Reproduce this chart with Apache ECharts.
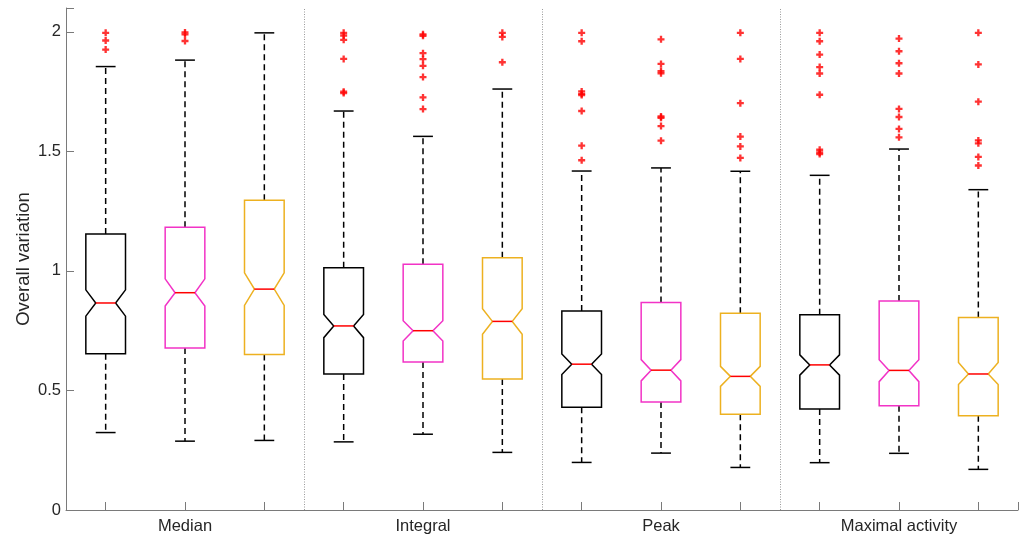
<!DOCTYPE html>
<html>
<head>
<meta charset="utf-8">
<title>Overall variation</title>
<script src="https://cdn.jsdelivr.net/npm/echarts@6/dist/echarts.min.js"></script>
<style>
  html, body { margin: 0; padding: 0; background: #ffffff; }
  #chart { width: 1026px; height: 537px; }
</style>
</head>
<body>
<div id="chart"></div>
<script>
// Measures, three conditions each (positions 1..12 on the x axis)
const groups = ['Median', 'Integral', 'Peak', 'Maximal activity'];

// Box statistics per box, left to right
const whiskerLow  = [0.324, 0.288, 0.291, 0.285, 0.317, 0.241, 0.199, 0.238, 0.178, 0.198, 0.237, 0.170];
const q1          = [0.654, 0.678, 0.650, 0.569, 0.619, 0.548, 0.430, 0.452, 0.401, 0.423, 0.436, 0.394];
const notchLow    = [0.811, 0.853, 0.856, 0.721, 0.707, 0.735, 0.567, 0.540, 0.517, 0.564, 0.537, 0.525];
const medians     = [0.866, 0.909, 0.924, 0.770, 0.750, 0.789, 0.610, 0.585, 0.559, 0.607, 0.584, 0.569];
const notchHigh   = [0.921, 0.967, 0.992, 0.818, 0.792, 0.842, 0.653, 0.629, 0.601, 0.649, 0.629, 0.617];
const q3          = [1.155, 1.183, 1.296, 1.013, 1.028, 1.055, 0.832, 0.868, 0.823, 0.817, 0.874, 0.805];
const whiskerHigh = [1.855, 1.882, 1.996, 1.669, 1.563, 1.761, 1.418, 1.431, 1.417, 1.400, 1.510, 1.340];

// Outlying observations per box
const outliers = [
  [1.996, 1.964, 1.926],
  [1.998, 1.990, 1.962],
  [],
  [1.996, 1.985, 1.967, 1.887, 1.750, 1.744],
  [1.990, 1.984, 1.911, 1.886, 1.858, 1.811, 1.726, 1.677],
  [1.996, 1.979, 1.873],
  [1.996, 1.961, 1.751, 1.741, 1.736, 1.669, 1.524, 1.463],
  [1.969, 1.866, 1.836, 1.827, 1.646, 1.641, 1.606, 1.545],
  [1.996, 1.887, 1.702, 1.562, 1.521, 1.473],
  [1.996, 1.961, 1.905, 1.853, 1.826, 1.737, 1.507, 1.496, 1.489],
  [1.972, 1.919, 1.869, 1.826, 1.678, 1.644, 1.594, 1.559],
  [1.996, 1.864, 1.708, 1.546, 1.534, 1.477, 1.441]
];

// Axis ticks
const yTicks = [0, 0.5, 1, 1.5, 2];
const yMax = 2.1;

// Colours of the three conditions within each group
const conditionColors = ['#000000', '#F233C6', '#EDB120'];

const positions = medians.map((_, i) => i + 1);
const groupCenters = groups.map((_, g) => g * 3 + 2);
const separators = groups.slice(1).map((_, g) => (g + 1) * 3 + 0.5);

const boxData = positions.map((p, i) => [
  p, whiskerLow[i], q1[i], notchLow[i], medians[i], notchHigh[i], q3[i], whiskerHigh[i]
]);

const outlierData = [];
outliers.forEach((vals, i) => vals.forEach(v => outlierData.push([positions[i], v])));

const FONT = "'Liberation Sans', Arial, Helvetica, sans-serif";
const TEXT = '#262626';
const AXIS = '#7a7a7a';

function renderBox(params, api) {
  const x = api.value(0);
  const idx = params.dataIndex;
  const color = conditionColors[idx % 3];
  const halfW = api.size([0.25, 0])[0];
  const notchW = halfW / 2;
  const capW = halfW / 2;
  const c = api.coord([x, 0])[0];
  const Y = v => api.coord([x, v])[1];
  const yWL = Y(api.value(1)), yQ1 = Y(api.value(2)), yNL = Y(api.value(3));
  const yMed = Y(api.value(4)), yNH = Y(api.value(5)), yQ3 = Y(api.value(6));
  const yWH = Y(api.value(7));
  const boxStroke = { stroke: color, lineWidth: 1.5, fill: null, lineJoin: 'miter' };
  const whiskerStroke = { stroke: '#000000', lineWidth: 1.5, lineDash: [6, 4] };
  const capStroke = { stroke: '#000000', lineWidth: 1.5 };
  return {
    type: 'group',
    children: [
      { type: 'line', shape: { x1: c, y1: yQ3, x2: c, y2: yWH }, style: whiskerStroke },
      { type: 'line', shape: { x1: c, y1: yQ1, x2: c, y2: yWL }, style: whiskerStroke },
      { type: 'line', shape: { x1: c - capW, y1: yWH, x2: c + capW, y2: yWH }, style: capStroke },
      { type: 'line', shape: { x1: c - capW, y1: yWL, x2: c + capW, y2: yWL }, style: capStroke },
      {
        type: 'polygon',
        shape: {
          points: [
            [c - halfW, yQ1], [c + halfW, yQ1], [c + halfW, yNL], [c + notchW, yMed],
            [c + halfW, yNH], [c + halfW, yQ3], [c - halfW, yQ3], [c - halfW, yNH],
            [c - notchW, yMed], [c - halfW, yNL]
          ]
        },
        style: boxStroke
      },
      { type: 'line', shape: { x1: c - notchW, y1: yMed, x2: c + notchW, y2: yMed },
        style: { stroke: '#FF0000', lineWidth: 1.5 } }
    ]
  };
}

const chart = echarts.init(document.getElementById('chart'), null, { renderer: 'canvas' });

chart.setOption({
  animation: false,
  backgroundColor: '#ffffff',
  grid: { left: 66, right: 8, top: 8, bottom: 27, containLabel: false, outerBoundsMode: 'none' },
  xAxis: {
    type: 'value',
    min: 0.5,
    max: 12.5,
    splitLine: { show: false },
    axisLine: { show: true, onZero: false, lineStyle: { color: AXIS, width: 1 } },
    axisTick: {
      show: true, inside: true, length: 8,
      customValues: positions.concat([12.5]),
      lineStyle: { color: AXIS, width: 1 }
    },
    axisLabel: {
      customValues: groupCenters,
      formatter: v => groups[Math.round((v - 2) / 3)] || '',
      color: TEXT, fontFamily: FONT, fontSize: 16.5, margin: 8
    }
  },
  yAxis: {
    type: 'value',
    min: 0,
    max: yMax,
    name: 'Overall variation',
    nameLocation: 'middle',
    nameGap: 33,
    nameMoveOverlap: false,
    nameTextStyle: { color: TEXT, fontFamily: FONT, fontSize: 18.5 },
    splitLine: { show: false },
    axisLine: { show: true, lineStyle: { color: AXIS, width: 1 } },
    axisTick: {
      show: true, inside: true, length: 8,
      customValues: yTicks.concat([yMax]),
      lineStyle: { color: AXIS, width: 1 }
    },
    axisLabel: {
      customValues: yTicks,
      formatter: v => String(v),
      color: TEXT, fontFamily: FONT, fontSize: 16.5, margin: 5
    }
  },
  series: [
    {
      type: 'custom',
      name: 'boxes',
      renderItem: renderBox,
      encode: { x: 0, y: [1, 2, 3, 4, 5, 6, 7] },
      data: boxData,
      silent: true,
      z: 3,
      markLine: {
        silent: true,
        symbol: ['none', 'none'],
        label: { show: false },
        lineStyle: { color: '#9a9a9a', type: [1, 1.5], width: 1 },
        data: separators.map(s => ({ xAxis: s }))
      }
    },
    {
      type: 'scatter',
      name: 'outliers',
      data: outlierData,
      symbol: 'path://M2,0H4V2H6V4H4V6H2V4H0V2H2Z',
      symbolSize: 7,
      itemStyle: { color: '#FF0000' },
      silent: true,
      z: 4
    }
  ]
});
</script>
</body>
</html>
